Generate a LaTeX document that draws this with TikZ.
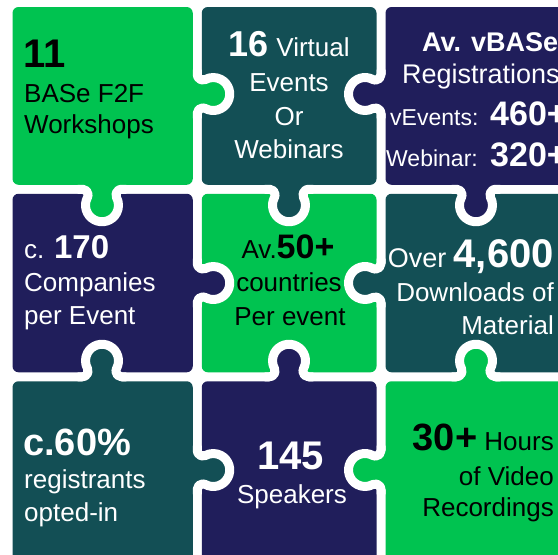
\documentclass[tikz,border=0pt]{standalone}
\usepackage{fontspec}
\setmainfont{Liberation Sans}
\definecolor{pgreen}{HTML}{00C350}
\definecolor{pteal}{HTML}{134F55}
\definecolor{pnavy}{HTML}{201E5B}
\def\pkA{19.333}
\def\pkF{5.5}
\def\pkR{16.5}
\def\pkP{28.51}
\def\pkPa{208.51}
\def\pkPb{-28.51}
\def\pkPc{151.49}
\newcommand\bnum[2]{{\fontsize{#1}{#1}\selectfont\bfseries #2}}
\newcommand\puzknob[4]{%
  \begin{scope}[shift={(#1,#2)},rotate=#3]
    \fill[#4] (-\pkA,-7) -- (-\pkA,0)
      arc[start angle=-90,end angle=\pkP,radius=\pkF]
      arc[start angle=\pkPa,end angle=\pkPb,radius=\pkR]
      arc[start angle=\pkPc,end angle=270,radius=\pkF]
      -- (\pkA,-7) -- cycle;
    \draw[gapline] (-\pkA-5,0) -- (-\pkA,0)
      arc[start angle=-90,end angle=\pkP,radius=\pkF]
      arc[start angle=\pkPa,end angle=\pkPb,radius=\pkR]
      arc[start angle=\pkPc,end angle=270,radius=\pkF]
      -- (\pkA+5,0);
  \end{scope}}
\tikzset{
  gapline/.style={white, line width=9pt, line cap=butt, line join=round},
  piece/.style={rounded corners=6pt},
  txt/.style={inner sep=0pt, font=\fontsize{26}{26}\selectfont},
}
\begin{document}
\begin{tikzpicture}[x=1pt,y=1pt,yscale=-1]
\useasboundingbox (0,0) rectangle (558,555);
\clip (0,0) rectangle (558,555);
\fill[white] (0,0) rectangle (558,555);
% pieces
\fill[piece, pgreen] (12.5,7) rectangle (192.75,184.75);
\fill[piece, pteal] (201.75,7) rectangle (376.5,184.75);
\fill[piece, pnavy] (385.5,7) rectangle (567,184.75);
\fill[piece, pnavy] (12.5,193.75) rectangle (192.75,372.25);
\fill[piece, pgreen] (201.75,193.75) rectangle (376.5,372.25);
\fill[piece, pteal] (385.5,193.75) rectangle (567,372.25);
\fill[piece, pteal] (12.5,381.25) rectangle (192.75,565);
\fill[piece, pnavy] (201.75,381.25) rectangle (376.5,565);
\fill[piece, pgreen] (385.5,381.25) rectangle (567,565);
% knobs
\puzknob{197.25}{94}{-90}{pgreen}
\puzknob{381}{94}{90}{pnavy}
\puzknob{102}{189.25}{0}{pgreen}
\puzknob{289}{189.25}{0}{pteal}
\puzknob{476}{189.25}{0}{pnavy}
\puzknob{197.25}{283}{-90}{pnavy}
\puzknob{381}{283}{90}{pteal}
\puzknob{102}{376.75}{180}{pteal}
\puzknob{289}{376.75}{180}{pnavy}
\puzknob{476}{376.75}{180}{pgreen}
\puzknob{197.25}{470}{-90}{pteal}
\puzknob{381}{470}{90}{pgreen}
% texts row 1
\node[txt, anchor=base west, black] (a1) at (23,67) {\bnum{40}{11}};
\node[txt, anchor=base west, black] (a2) at (24,102) {BASe F2F};
\node[txt, anchor=base west, black] (a3) at (24,133) {Workshops};
\node[txt, anchor=base, white] (b1) at (289,56.5) {\bnum{36}{16}\hspace{8pt}Virtual};
\node[txt, anchor=base, white] (b2) at (289,91.5) {Events};
\node[txt, anchor=base, white] (b3) at (289,125.5) {Or};
\node[txt, anchor=base, white] (b4) at (289,158) {Webinars};
\node[txt, anchor=base west, white] (c1) at (422,51.5) {\bnum{27}{Av. vBASe}};
\node[txt, anchor=base west, white, font=\fontsize{27}{27}\selectfont] (c2) at (402,83.3) {Registrations};
\node[txt, anchor=base west, white, font=\fontsize{23}{23}\selectfont] (c3) at (390,125) {vEvents:};
\node[txt, anchor=base west, white] (c4) at (490,125) {\bnum{34}{460+}};
\node[txt, anchor=base west, white, font=\fontsize{23}{23}\selectfont] (c5) at (386,166.7) {Webinar:};
\node[txt, anchor=base west, white] (c6) at (490,166.7) {\bnum{34}{320+}};
% row 2
\node[txt, anchor=base west, white] (d1) at (24,258) {c. \bnum{33}{170}};
\node[txt, anchor=base west, white] (d2) at (24,291.7) {Companies};
\node[txt, anchor=base west, white] (d3) at (24,324) {per Event};
\node[txt, anchor=base, black] (e1) at (288,258) {Av.\bnum{34}{50+}};
\node[txt, anchor=base, black] (e2) at (289,291.7) {countries};
\node[txt, anchor=base, black] (e3) at (290,325.7) {Per event};
\node[txt, anchor=base east, white] (f1) at (554,267.3) {{\fontsize{27}{27}\selectfont Over} \bnum{40}{4,600}};
\node[txt, anchor=base east, white] (f2) at (554,301.7) {Downloads of};
\node[txt, anchor=base east, white] (f3) at (554,334) {Material};
% row 3
\node[txt, anchor=base west, white] (g1) at (23,455) {\bnum{38}{c.60\%}};
\node[txt, anchor=base west, white] (g2) at (24,488.3) {registrants};
\node[txt, anchor=base west, white] (g3) at (24,521.7) {opted-in};
\node[txt, anchor=base, white] (h1) at (290.5,469) {\bnum{40}{145}};
\node[txt, anchor=base, white] (h2) at (292,503.3) {Speakers};
\node[txt, anchor=base east, black] (i1) at (554,450) {\bnum{38}{30+} Hours};
\node[txt, anchor=base east, black] (i2) at (554,485) {of Video};
\node[txt, anchor=base east, black] (i3) at (554,516.7) {Recordings};
\end{tikzpicture}
\end{document}
